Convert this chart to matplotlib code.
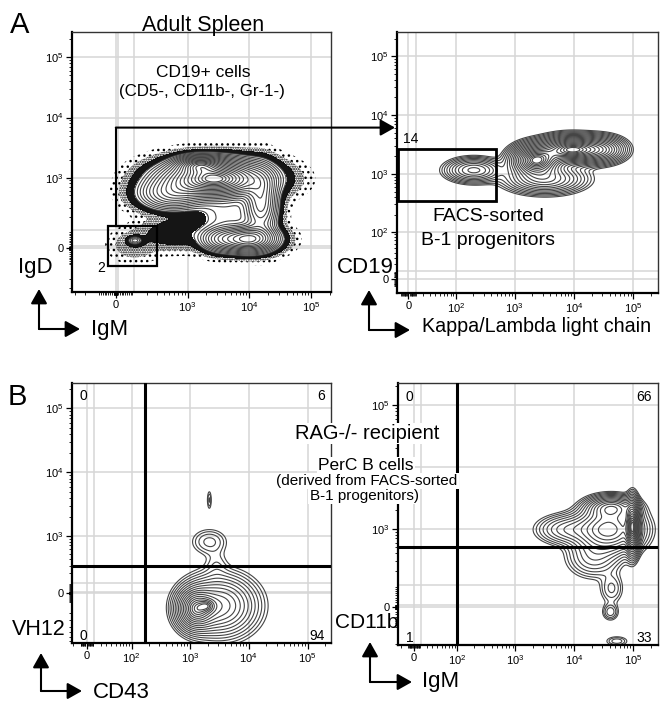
import numpy as np
import matplotlib
matplotlib.use("Agg")
import matplotlib.pyplot as plt
from matplotlib.patches import FancyArrowPatch, Rectangle

plt.rcParams['font.family'] = ['Liberation Sans', 'DejaVu Sans']
plt.rcParams['mathtext.default'] = 'regular'
plt.rcParams['hatch.color'] = 'black'
plt.rcParams['hatch.linewidth'] = 1.0

W, H = 660, 702
LN10 = np.log(10.0)

# ---- axis scales (biexponential cofactor, min, max, labelled ticks)
al_x = dict(c=69, lo=-340, hi=2.1e5, labels=[0, 1e3, 1e4, 1e5])
al_y = dict(c=68, lo=-350, hi=2.62e5, labels=[0, 1e3, 1e4, 1e5])
ar_x = dict(c=16.3, lo=-15, hi=2.6e5, labels=[0, 1e2, 1e3, 1e4, 1e5])
ar_y = dict(c=16.3, lo=-19, hi=2.6e5, labels=[0, 1e2, 1e3, 1e4, 1e5])
bl_x = dict(c=17.9, lo=-22, hi=2.5e5, labels=[0, 1e2, 1e3, 1e4, 1e5])
bl_y = dict(c=131, lo=-770, hi=2.49e5, labels=[0, 1e3, 1e4, 1e5])
br_x = dict(c=19.3, lo=-26, hi=2.65e5, labels=[0, 1e2, 1e3, 1e4, 1e5])
br_y = dict(c=55, lo=-211, hi=2.26e5, labels=[0, 1e3, 1e4, 1e5])
grid_vals = [0, 1e1, 1e2, 1e3, 1e4, 1e5]

# ---- cell populations: centre (fluorescence), spread (decades), weight
# A left: IgM vs IgD, CD19+ splenocytes
al_cx = [2750, 1540, 540, 15500, 9740, 3450, 4360, 607, 106, 103]
al_cy = [956, 1630, 530, 370, 48, 48, 222, 83, 41, 16]
al_sx = [0.45, 0.20, 0.30, 0.15, 0.25, 0.20, 0.30, 0.30, 0.07, 0.22]
al_sy = [0.17, 0.08, 0.15, 0.30, 0.12, 0.12, 0.20, 0.15, 0.04, 0.15]
al_w = [1.0, 0.45, 0.25, 0.30, 0.55, 0.20, 0.06, 0.035, 0.07, 0.014]
# A right: kappa/lambda vs CD19
ar_cx = [2300, 9160, 28900, 3260, 204]
ar_cy = [1705, 2585, 2585, 815, 1154]
ar_sx = [0.22, 0.28, 0.22, 0.35, 0.25]
ar_sy = [0.14, 0.12, 0.12, 0.13, 0.11]
ar_w = [1.0, 1.0, 0.4, 0.35, 0.3]
# B left: CD43 vs VH12
bl_cx = [1270, 2010, 3180, 2150, 2840, 2150]
bl_cy = [-159, -125, -125, 805, 323, 3700]
bl_sx = [0.17, 0.08, 0.33, 0.18, 0.12, 0.025]
bl_sy = [0.17, 0.06, 0.25, 0.12, 0.15, 0.10]
bl_w = [0.9, 0.3, 0.6, 0.09, 0.04, 0.06]
# B right: IgM vs CD11b
br_cx = [98000, 43200, 38600, 7680, 21600, 43200, 41300, 53100]
br_cy = [1095, 2190, 976, 976, 338, 82, -20, -179]
br_sx = [0.06, 0.22, 0.30, 0.28, 0.25, 0.12, 0.08, 0.12]
br_sy = [0.22, 0.10, 0.20, 0.13, 0.18, 0.15, 0.08, 0.05]
br_w = [1.0, 0.45, 0.60, 0.16, 0.12, 0.06, 0.07, 0.05]

# gates and quadrants (fluorescence units)
al_gate_small = [-40, 310, -100, 130]
al_gate_big = [0, 6800]
ar_gate = [-13, 480, 340, 2700]
bl_quad = [170, 300]
br_quad = [100, 500]
bl_pct = ['0', '6', '0', '94']
br_pct = ['0', '66', '1', '33']


def fwd(v, c):
    return np.arcsinh(np.asarray(v, float) / (2.0 * c)) / LN10


def fmt(v):
    if v == 0:
        return '0'
    return '$10^{%d}$' % int(round(np.log10(v)))


fig = plt.figure(figsize=(W / 100, H / 100), dpi=100)


def px_axes(l, t, r, b):
    return fig.add_axes([l / W, 1 - b / H, (r - l) / W, (b - t) / H])


def setup(ax, sx, sy):
    ax.set_xlim(fwd(sx['lo'], sx['c']), fwd(sx['hi'], sx['c']))
    ax.set_ylim(fwd(sy['lo'], sy['c']), fwd(sy['hi'], sy['c']))
    for g in grid_vals:
        ax.axvline(fwd(g, sx['c']), color='#d6d6d6', lw=1.1, zorder=0)
        ax.axhline(fwd(g, sy['c']), color='#d6d6d6', lw=1.1, zorder=0)
    minors = [s * k * 10.0 ** d for d in range(0, 6) for k in range(2, 10)
              for s in (1, -1)]
    for s, axis in ((sx, ax.xaxis), (sy, ax.yaxis)):
        axis.set_ticks([fwd(v, s['c']) for v in s['labels']])
        axis.set_ticklabels([fmt(v) for v in s['labels']])
        mv = [fwd(v, s['c']) for v in minors if s['lo'] < v < s['hi']]
        axis.set_ticks(mv, minor=True)
    ax.tick_params(which='major', direction='out', length=4, width=0.9,
                   labelsize=8, pad=2)
    ax.tick_params(which='minor', direction='out', length=2, width=0.6)
    for side in ('top', 'right'):
        ax.spines[side].set_linewidth(1.0)
        ax.spines[side].set_color('#333333')
    for side in ('bottom', 'left'):
        ax.spines[side].set_linewidth(1.6)


def density(sx, sy, cx, cy, spx, spy, w, n=400):
    X, Y = np.meshgrid(
        np.linspace(fwd(sx['lo'], sx['c']), fwd(sx['hi'], sx['c']), n),
        np.linspace(fwd(sy['lo'], sy['c']), fwd(sy['hi'], sy['c']), n))
    Z = np.zeros_like(X)
    for i in range(len(cx)):
        u = (X - fwd(cx[i], sx['c'])) / spx[i]
        v = (Y - fwd(cy[i], sy['c'])) / spy[i]
        Z += w[i] * np.exp(-0.5 * (u * u + v * v))
    return X, Y, Z / Z.max()


def draw_pop(ax, X, Y, Z, lo, n, col='#454545'):
    # rings spaced evenly in "radius" like probability contours
    rmax = np.sqrt(-2 * np.log(lo))
    lv = np.exp(-0.5 * (rmax * np.linspace(1, 0.12, n)) ** 2)
    ax.contour(X, Y, Z, levels=lv, colors=col, linewidths=0.8)


def outliers(ax, X, Y, Z, lo):
    # cells outside the lowest contour drawn as dots
    ax.contourf(X, Y, Z, levels=[0.4 * lo, 0.88 * lo], colors=['#151515'])
    ax.contourf(X, Y, Z, levels=[0.14 * lo, 0.4 * lo], colors='none',
                hatches=['.......'])
    ax.contourf(X, Y, Z, levels=[0.035 * lo, 0.14 * lo], colors='none',
                hatches=['...'])


def fig_text(x, y, s, **kw):
    return fig.text(x / W, 1 - y / H, s, **kw)


ARROW = '-|>,head_length=0.8,head_width=0.45'


def fig_arrow(x0, y0, x1, y1):
    fig.add_artist(FancyArrowPatch((x0 / W, 1 - y0 / H), (x1 / W, 1 - y1 / H),
                                   transform=fig.transFigure, arrowstyle=ARROW,
                                   mutation_scale=11, lw=1.5, color='black',
                                   shrinkA=0, shrinkB=0))


def l_arrow(cx, cy, vy, hx):
    fig_arrow(cx, cy, cx, vy)
    fig_arrow(cx, cy, hx, cy)


def quad_labels(ax, pct):
    kw = dict(transform=ax.transAxes, fontsize=10)
    ax.text(0.03, 0.975, pct[0], ha='left', va='top', **kw)
    ax.text(0.975, 0.975, pct[1], ha='right', va='top', **kw)
    ax.text(0.03, 0.0, pct[2], ha='left', va='bottom', **kw)
    ax.text(0.975, 0.0, pct[3], ha='right', va='bottom', **kw)


def gate_box(ax, sx, sy, g, lw):
    x0, x1 = fwd(g[0], sx['c']), fwd(g[1], sx['c'])
    y0, y1 = fwd(g[2], sy['c']), fwd(g[3], sy['c'])
    ax.add_patch(Rectangle((x0, y0), x1 - x0, y1 - y0, fill=False, lw=lw,
                           color='black', zorder=5))
    return x0, x1, y0, y1


# ---------------- A left ----------------
ax1 = px_axes(72, 32, 331, 292)
setup(ax1, al_x, al_y)
X, Y, Z = density(al_x, al_y, al_cx, al_cy, al_sx, al_sy, al_w)
outliers(ax1, X, Y, Z, 0.04)
draw_pop(ax1, X, Y, Z, 0.04, 20)
gx0, gx1, gy0, gy1 = gate_box(ax1, al_x, al_y, al_gate_small, 1.6)
bx = fwd(al_gate_big[0], al_x['c'])
by = fwd(al_gate_big[1], al_y['c'])
ax1.plot([bx, bx], [gy1, by], color='black', lw=1.5, zorder=5, clip_on=False)

# ---------------- A right ----------------
ax2 = px_axes(397, 32, 658, 293)
setup(ax2, ar_x, ar_y)
X, Y, Z = density(ar_x, ar_y, ar_cx, ar_cy, ar_sx, ar_sy, ar_w)
draw_pop(ax2, X, Y, Z, 0.02, 20)
gx0, gx1, gy0, gy1 = gate_box(ax2, ar_x, ar_y, ar_gate, 2.0)
ax2.text(gx0 + 0.08, gy1 + 0.04, '14', fontsize=10, ha='left', va='bottom')

# arrow from big gate in A left to A right
p0 = fig.transFigure.inverted().transform(ax1.transData.transform((bx, by)))
p1 = fig.transFigure.inverted().transform(ax2.transAxes.transform((0, 0)))
fig.add_artist(FancyArrowPatch((p0[0], p0[1]), (p1[0] - 2 / W, p0[1]),
                               transform=fig.transFigure, arrowstyle=ARROW,
                               mutation_scale=11, lw=1.5, color='black',
                               shrinkA=0, shrinkB=0))

# ---------------- B left ----------------
ax3 = px_axes(72, 383, 331, 643)
setup(ax3, bl_x, bl_y)
X, Y, Z = density(bl_x, bl_y, bl_cx, bl_cy, bl_sx, bl_sy, bl_w)
draw_pop(ax3, X, Y, Z, 0.02, 18)
ax3.axvline(fwd(bl_quad[0], bl_x['c']), color='black', lw=2.2, zorder=6)
ax3.axhline(fwd(bl_quad[1], bl_y['c']), color='black', lw=2.2, zorder=6)
quad_labels(ax3, bl_pct)

# ---------------- B right ----------------
ax4 = px_axes(398, 383, 658, 645)
setup(ax4, br_x, br_y)
X, Y, Z = density(br_x, br_y, br_cx, br_cy, br_sx, br_sy, br_w)
draw_pop(ax4, X, Y, Z, 0.015, 20)
ax4.axvline(fwd(br_quad[0], br_x['c']), color='black', lw=2.2, zorder=6)
ax4.axhline(fwd(br_quad[1], br_y['c']), color='black', lw=2.2, zorder=6)
quad_labels(ax4, br_pct)

# ---------------- annotations ----------------
fig_text(10, 33, 'A', fontsize=21)
fig_text(8, 405, 'B', fontsize=21)
fig_text(203, 31, 'Adult Spleen', fontsize=15.5, ha='center')
fig_text(203, 77, 'CD19+ cells', fontsize=12.5, ha='center')
fig_text(202, 96, '(CD5-, CD11b-, Gr-1-)', fontsize=12.2, ha='center')
fig_text(97, 272, '2', fontsize=10)
fig_text(488, 221, 'FACS-sorted', fontsize=14, ha='center')
fig_text(488, 245, 'B-1 progenitors', fontsize=14, ha='center')

box = dict(facecolor='white', edgecolor='none', pad=1)
fig_text(367, 439, 'RAG-/- recipient', fontsize=14.5, ha='center', bbox=box,
         zorder=10)
fig_text(366, 470, 'PerC B cells', fontsize=12.5, ha='center', bbox=box,
         zorder=10)
fig_text(367, 485, '(derived from FACS-sorted', fontsize=11, ha='center',
         bbox=box, zorder=10)
fig_text(364, 500, 'B-1 progenitors)', fontsize=11, ha='center', bbox=box,
         zorder=10)

fig_text(18, 273, 'IgD', fontsize=16)
fig_text(91, 335, 'IgM', fontsize=16)
fig_text(337, 273, 'CD19', fontsize=16)
fig_text(422, 332, 'Kappa/Lambda light chain', fontsize=14.2)
fig_text(12, 635, 'VH12', fontsize=15.5)
fig_text(93, 698, 'CD43', fontsize=16)
fig_text(335, 628, 'CD11b', fontsize=15)
fig_text(422, 687, 'IgM', fontsize=16)

l_arrow(39, 329, 289, 80)
l_arrow(369, 330, 290, 410)
l_arrow(41, 691, 653, 82)
l_arrow(370, 682, 642, 412)

fig.savefig('out.png', dpi=100)
